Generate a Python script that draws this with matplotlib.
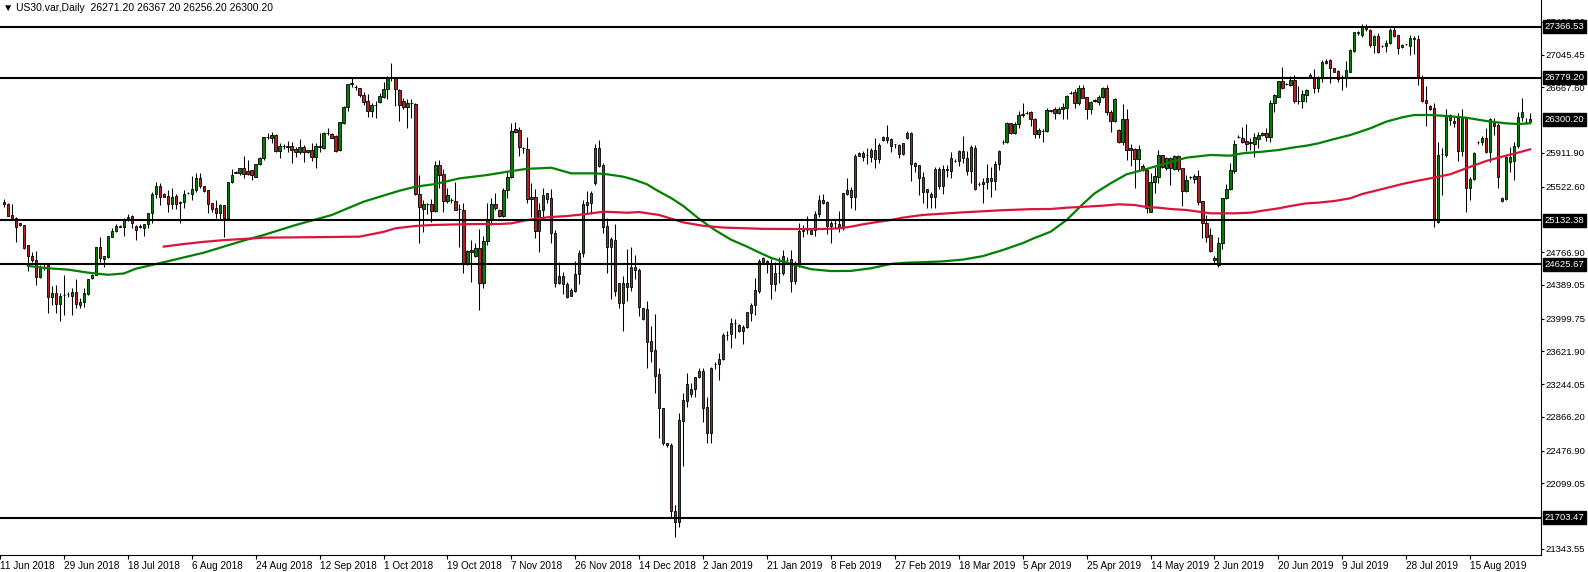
import matplotlib
matplotlib.use('Agg')
import matplotlib.pyplot as plt
import numpy as np

plt.rcParams['font.family'] = ['Liberation Sans', 'DejaVu Sans']

# US30 daily candles (one entry per bar)
opens = [
    25341, 25322, 25195, 25164, 25100, 25080, 24850, 24726, 24672, 24476,
    24580, 24618, 24253, 24295, 24165, 24270, 24280, 24260, 24303, 24157,
    24195, 24280, 24464, 24503, 24822, 24688, 24714, 24945, 25014, 25068,
    25060, 25133, 25185, 25068, 25068, 25048, 25087, 25214, 25433, 25533,
    25440, 25414, 25318, 25414, 25337, 25340, 25445, 25440, 25487, 25621,
    25525, 25479, 25329, 25271, 25221, 25310, 25156, 25571, 25680, 25675,
    25733, 25706, 25710, 25637, 25779, 25848, 26098, 26079, 26117, 25937,
    25990, 25992, 25990, 25952, 25925, 25979, 25917, 25940, 25867, 25990,
    25971, 26140, 26125, 26110, 25944, 26259, 26436, 26718, 26667, 26656,
    26579, 26510, 26398, 26463, 26494, 26560, 26644, 26779, 26771, 26640,
    26510, 26444, 26483, 26475, 25433, 25264, 25325, 25318, 25245, 25771,
    25667, 25360, 25369, 25360, 25260, 25252, 24629, 24791, 24726, 24810,
    24414, 24891, 25145, 25321, 25252, 25183, 25483, 25629, 26187, 26175,
    25964, 25956, 25375, 25398, 25014, 25252, 25444, 25387, 24983, 24406,
    24491, 24399, 24264, 24322, 24514, 24752, 25341, 25337, 25560, 25964,
    25771, 25068, 24822, 24906, 24406, 24176, 24406, 24360, 24599, 24560,
    23991, 24110, 23745, 23637, 23360, 22965, 22560, 22540, 21780, 21650,
    22823, 23053, 23130, 23184, 23326, 23395, 22976, 22676, 23476, 23480,
    23530, 23811, 23818, 23946, 23926, 23861, 23899, 24061, 24157, 24322,
    24699, 24664, 24630, 24395, 24522, 24522, 24676, 24683, 24437, 24630,
    25010, 25018, 24976, 25022, 25202, 25368, 25341, 25072, 25098, 25087,
    25041, 25437, 25483, 25406, 25879, 25910, 25887, 25867, 25948, 25837,
    26060, 26098, 26071, 26010, 26002, 25898, 26079, 26137, 25798, 25771,
    25629, 25464, 25437, 25406, 25721, 25529, 25719, 25706, 25821, 25821,
    25933, 25848, 25706, 25971, 25552, 25548, 25571, 25625, 25587, 25779,
    26037, 26040, 26252, 26136, 26244, 26348, 26373, 26379, 26298, 26125,
    26165, 26167, 26406, 26413, 26367, 26413, 26433, 26600, 26610, 26483,
    26656, 26552, 26413, 26521, 26494, 26552, 26656, 26386, 26279, 26175,
    26040, 26302, 25971, 25956, 25840, 25760, 25714, 25233, 25579, 25637,
    25887, 25733, 25848, 25725, 25879, 25733, 25475, 25628, 25610, 25644,
    25356, 25106, 24964, 24700, 24618, 24868, 25387, 25491, 25706, 26098,
    26079, 26048, 26033, 26014, 26071, 26117, 26144, 26098, 26483, 26560,
    26744, 26705, 26694, 26752, 26513, 26513, 26579, 26809, 26783, 26663,
    26782, 26975, 26982, 26886, 26856, 26771, 26771, 26848, 27090, 27298,
    27271, 27359, 27329, 27155, 27259, 27143, 27143, 27175, 27328, 27271,
    27128, 27162, 27143, 27232, 27225, 26790, 26521, 26452, 26425, 25118,
    25895, 25887, 26348, 26280, 26310, 25933, 26310, 25502, 25610, 26033,
    26033, 26079, 25925, 26252, 26233, 25356, 25379, 25810, 25817, 25990,
    26329, 26271, 26271,
]
highs = [
    25380, 25330, 25318, 25170, 25105, 25085, 24850, 24772, 24784, 24618,
    24625, 24620, 24380, 24387, 24291, 24503, 24311, 24350, 24453, 24234,
    24350, 24460, 24510, 24830, 24937, 24725, 24955, 25041, 25087, 25075,
    25156, 25203, 25195, 25080, 25090, 25090, 25220, 25456, 25579, 25560,
    25450, 25483, 25502, 25440, 25355, 25483, 25460, 25640, 25675, 25675,
    25530, 25485, 25335, 25368, 25318, 25315, 25571, 25725, 25700, 25740,
    25875, 25829, 25712, 25781, 25867, 26098, 26136, 26148, 26125, 26021,
    26010, 26048, 26033, 25983, 26071, 26002, 25950, 26029, 26021, 26136,
    26156, 26202, 26135, 26112, 26267, 26448, 26710, 26771, 26690, 26660,
    26617, 26586, 26490, 26510, 26598, 26725, 26802, 26948, 26775, 26650,
    26540, 26530, 26530, 26490, 25656, 25367, 25330, 25375, 25817, 25829,
    25725, 25510, 25390, 25579, 25321, 25329, 24790, 24906, 24868, 25029,
    24952, 25337, 25387, 25444, 25260, 25502, 25687, 26252, 26263, 26213,
    25975, 26098, 25560, 25490, 25337, 25502, 25450, 25490, 25022, 24656,
    24541, 24422, 24349, 24664, 24791, 25368, 25472, 25472, 26014, 26060,
    25790, 25156, 24945, 25087, 24410, 24491, 24799, 24829, 24733, 24579,
    24125, 24203, 23914, 24053, 23426, 22970, 22570, 22569, 21850, 22907,
    23138, 23376, 23253, 23330, 23430, 23426, 23099, 23438, 23499, 23607,
    23830, 23857, 24003, 23991, 23935, 23926, 24080, 24184, 24472, 24683,
    24710, 24675, 24683, 24656, 24714, 24791, 24710, 24791, 24660, 25098,
    25080, 25183, 25041, 25241, 25425, 25437, 25356, 25125, 25145, 25241,
    25450, 25617, 25521, 25894, 25920, 25933, 25964, 25964, 26087, 26021,
    26110, 26233, 26079, 26015, 26010, 26025, 26167, 26148, 25805, 25775,
    25694, 25500, 25464, 25744, 25752, 25771, 25771, 25917, 25840, 25944,
    26106, 25933, 26002, 26002, 25570, 25625, 25779, 25752, 25821, 25944,
    26060, 26271, 26260, 26271, 26394, 26483, 26390, 26390, 26310, 26194,
    26185, 26425, 26410, 26444, 26444, 26483, 26579, 26620, 26648, 26694,
    26694, 26560, 26510, 26530, 26579, 26675, 26694, 26406, 26540, 26190,
    26475, 26417, 26010, 25964, 26002, 25779, 25733, 25675, 25752, 25940,
    25890, 25867, 25867, 25887, 25890, 25740, 25656, 25640, 25667, 25714,
    25360, 25194, 25041, 24720, 24945, 25387, 25548, 25790, 26060, 26120,
    26213, 26244, 26079, 26136, 26156, 26150, 26194, 26521, 26590, 26744,
    26906, 26720, 26798, 26810, 26682, 26636, 26644, 26830, 26878, 26798,
    26983, 26994, 26994, 26890, 26867, 26809, 26975, 27106, 27309, 27317,
    27398, 27398, 27336, 27271, 27298, 27150, 27213, 27348, 27359, 27275,
    27170, 27167, 27271, 27259, 27271, 26809, 26683, 26460, 26490, 26040,
    25964, 26417, 26360, 26330, 26367, 26417, 26329, 25637, 25925, 26050,
    26110, 26194, 26310, 26310, 26252, 25406, 25870, 25983, 26040, 26386,
    26540, 26317, 26367,
]
lows = [
    25290, 25180, 25150, 24880, 25070, 24800, 24550, 24657, 24387, 24464,
    24560, 24068, 24157, 24068, 23976, 24040, 24245, 24040, 24118, 24118,
    24138, 24272, 24460, 24500, 24649, 24599, 24703, 24937, 25003, 25055,
    24957, 25126, 25041, 24906, 25040, 24956, 25041, 25098, 25387, 25310,
    25400, 25233, 25264, 25264, 25098, 25272, 25440, 25367, 25456, 25502,
    25456, 25214, 25233, 25156, 25148, 24945, 25133, 25560, 25675, 25656,
    25617, 25656, 25598, 25635, 25775, 25829, 26071, 26021, 25925, 25856,
    25956, 25925, 25790, 25867, 25894, 25802, 25910, 25817, 25733, 25917,
    25956, 26117, 26080, 25925, 25933, 26248, 26394, 26675, 26640, 26560,
    26463, 26329, 26329, 26317, 26483, 26548, 26529, 26740, 26456, 26283,
    26413, 26202, 26310, 25420, 24875, 24995, 25202, 25118, 25229, 25502,
    25229, 25337, 25329, 25252, 24829, 24522, 24620, 24425, 24714, 24099,
    24349, 24845, 25079, 25252, 25175, 25175, 25394, 25625, 26144, 25875,
    25906, 25329, 25175, 24926, 24772, 25137, 25337, 24876, 24360, 24399,
    24283, 24241, 24260, 24303, 24399, 24714, 25202, 25202, 25541, 25750,
    24983, 24530, 24226, 24264, 24118, 23857, 24207, 24318, 24456, 24033,
    23985, 23434, 23499, 23145, 22626, 22542, 22520, 21700, 21480, 21600,
    22300, 22976, 23092, 23099, 23318, 22803, 22569, 22569, 23422, 23291,
    23522, 23753, 23657, 23780, 23849, 23707, 23888, 23972, 24041, 24299,
    24645, 24530, 24226, 24322, 24406, 24503, 24660, 24310, 24400, 24600,
    24945, 24972, 24970, 24956, 25175, 25318, 24976, 24868, 25048, 24995,
    25022, 25425, 25279, 25252, 25870, 25821, 25779, 25810, 25741, 25790,
    26050, 26021, 25925, 25971, 25848, 25887, 26075, 25591, 25694, 25425,
    25329, 25271, 25271, 25271, 25494, 25437, 25637, 25625, 25805, 25764,
    25790, 25656, 25560, 25483, 25530, 25329, 25494, 25406, 25483, 25714,
    26010, 26030, 26125, 26125, 26194, 26329, 26355, 26225, 26079, 26079,
    26040, 26156, 26385, 26298, 26360, 26298, 26298, 26590, 26433, 26463,
    26540, 26298, 26356, 26500, 26463, 26545, 26348, 26156, 26271, 26021,
    26002, 25829, 25764, 25502, 25702, 25702, 25214, 25233, 25444, 25560,
    25740, 25714, 25541, 25714, 25702, 25302, 25464, 25610, 25560, 25310,
    24925, 24887, 24772, 24640, 24599, 24799, 25375, 25483, 25683, 26080,
    26021, 25937, 25944, 25867, 25971, 26110, 26052, 26040, 26387, 26552,
    26648, 26690, 26686, 26490, 26475, 26425, 26502, 26780, 26598, 26617,
    26732, 26940, 26713, 26840, 26732, 26636, 26675, 26840, 27079, 27271,
    27252, 27321, 27136, 27059, 27059, 27135, 27071, 27167, 27252, 27048,
    27120, 27155, 27040, 27048, 26694, 26502, 26221, 26405, 25060, 25106,
    25425, 25867, 26230, 26215, 25821, 25870, 25233, 25367, 25598, 26010,
    26000, 25906, 25810, 26117, 25502, 25348, 25370, 25687, 25598, 25964,
    26279, 26240, 26256,
]
closes = [
    25318, 25187, 25157, 25060, 25075, 24810, 24726, 24672, 24476, 24580,
    24595, 24253, 24295, 24165, 24257, 24272, 24282, 24303, 24165, 24195,
    24299, 24453, 24503, 24826, 24695, 24722, 24953, 25010, 25068, 25060,
    25137, 25172, 25100, 25022, 25060, 25087, 25214, 25433, 25529, 25406,
    25406, 25318, 25406, 25321, 25340, 25437, 25450, 25494, 25621, 25525,
    25471, 25325, 25268, 25221, 25306, 25156, 25571, 25652, 25685, 25733,
    25668, 25671, 25656, 25779, 25848, 26090, 26100, 26117, 25937, 25990,
    25992, 25975, 25944, 25925, 25979, 25921, 25944, 25867, 25990, 25975,
    26140, 26142, 26087, 25937, 26267, 26440, 26706, 26702, 26670, 26579,
    26502, 26398, 26463, 26465, 26567, 26648, 26771, 26775, 26644, 26463,
    26444, 26490, 26485, 25433, 25283, 25321, 25327, 25245, 25771, 25660,
    25360, 25421, 25371, 25256, 25262, 24629, 24783, 24764, 24810, 24414,
    24891, 25145, 25321, 25271, 25179, 25483, 25629, 26164, 26156, 25983,
    25966, 25375, 25398, 25014, 25252, 25425, 25375, 24983, 24406, 24491,
    24399, 24253, 24330, 24514, 24752, 25322, 25310, 25452, 25964, 25764,
    25060, 24822, 24914, 24322, 24176, 24406, 24368, 24599, 24560, 24130,
    24118, 23734, 23630, 23341, 22964, 22561, 22540, 21780, 21650, 22830,
    23061, 23245, 23184, 23326, 23395, 22965, 22676, 23426, 23478, 23530,
    23807, 23815, 23953, 23949, 23861, 23899, 24072, 24157, 24330, 24668,
    24653, 24645, 24395, 24522, 24525, 24722, 24678, 24437, 24620, 25010,
    25025, 25022, 25022, 25206, 25368, 25337, 25072, 25098, 25100, 25041,
    25445, 25483, 25406, 25875, 25910, 25864, 25889, 25948, 25837, 26002,
    26098, 26060, 25994, 26008, 25898, 26025, 26137, 25783, 25764, 25625,
    25464, 25490, 25406, 25721, 25529, 25721, 25721, 25848, 25823, 25933,
    25848, 25706, 25983, 25494, 25550, 25579, 25625, 25587, 25783, 25933,
    26040, 26252, 26136, 26244, 26348, 26360, 26375, 26298, 26125, 26175,
    26167, 26406, 26394, 26367, 26413, 26440, 26567, 26602, 26483, 26656,
    26548, 26413, 26494, 26510, 26552, 26656, 26386, 26279, 26533, 26040,
    26302, 25944, 25940, 25840, 25952, 25714, 25271, 25579, 25648, 25887,
    25752, 25848, 25733, 25879, 25721, 25471, 25598, 25630, 25640, 25348,
    25098, 24945, 24783, 24680, 24868, 25387, 25491, 25714, 26014, 26100,
    26037, 26014, 26030, 26090, 26113, 26140, 26098, 26483, 26579, 26744,
    26656, 26707, 26752, 26513, 26515, 26590, 26636, 26790, 26663, 26790,
    26963, 26952, 26886, 26848, 26760, 26773, 26867, 27098, 27302, 27300,
    27367, 27340, 27155, 27259, 27071, 27145, 27182, 27328, 27263, 27125,
    27155, 27164, 27232, 27230, 26783, 26513, 26483, 26413, 25137, 25887,
    25893, 26348, 26290, 26260, 25933, 26310, 25502, 25610, 25906, 26031,
    26079, 25925, 26302, 26225, 25637, 25387, 25867, 25867, 25990, 26329,
    26386, 26273, 26300,
]

# moving averages sampled along the chart (bar index, value)
green_ma_bars = [6, 11, 16, 21, 26, 30, 33, 40, 50, 60,
                 65, 73, 82, 90, 99, 103, 108, 114, 121, 126,
                 131, 134, 137, 139, 142, 148, 151, 155, 158, 161,
                 163, 165, 167, 170, 174, 178, 182, 186, 188, 192,
                 197, 202, 207, 212, 217, 222, 226, 230, 235, 240,
                 245, 250, 255, 258, 262, 266, 270, 273, 277, 281,
                 286, 290, 293, 296, 302, 307, 310, 315, 319, 323,
                 326, 329, 333, 337, 342, 346, 350, 353, 357, 360,
                 366, 371, 376, 379, 382]
green_ma = [24607, 24580, 24565, 24530, 24505, 24520, 24575, 24650, 24760, 24900,
            24964, 25079, 25194, 25348, 25475, 25521, 25552, 25617, 25656, 25694,
            25728, 25733, 25740, 25714, 25675, 25675, 25664, 25637, 25598, 25548,
            25491, 25440, 25390, 25300, 25150, 25020, 24910, 24830, 24785, 24700,
            24630, 24570, 24548, 24550, 24580, 24630, 24645, 24650, 24660, 24680,
            24720, 24790, 24870, 24930, 25002, 25137, 25318, 25444, 25560, 25664,
            25725, 25779, 25817, 25856, 25887, 25879, 25906, 25925, 25944, 25975,
            25994, 26021, 26071, 26117, 26194, 26271, 26321, 26348, 26348, 26340,
            26317, 26279, 26252, 26244, 26252]
red_ma_bars = [40, 45, 50, 55, 60, 65, 80, 89, 95, 98,
               103, 107, 114, 119, 124, 127, 131, 136, 141, 145,
               150, 156, 159, 164, 170, 175, 180, 190, 197, 205,
               209, 212, 215, 218, 222, 225, 228, 230, 240, 250,
               257, 262, 266, 271, 275, 279, 283, 286, 289, 292,
               296, 299, 302, 308, 312, 315, 319, 322, 326, 329,
               333, 337, 340, 345, 350, 354, 357, 362, 366, 371,
               376, 379, 382]
red_ma = [24830, 24860, 24885, 24905, 24918, 24933, 24940, 24945, 25000, 25041,
          25068, 25079, 25087, 25091, 25091, 25098, 25137, 25168, 25183, 25202,
          25233, 25221, 25229, 25195, 25110, 25070, 25050, 25035, 25033, 25033,
          25041, 25060, 25087, 25110, 25137, 25164, 25183, 25195, 25225, 25250,
          25262, 25264, 25279, 25291, 25302, 25318, 25310, 25287, 25279, 25264,
          25252, 25233, 25214, 25214, 25221, 25244, 25271, 25298, 25329, 25337,
          25356, 25387, 25437, 25494, 25552, 25591, 25617, 25664, 25733, 25817,
          25879, 25914, 25952]

# horizontal levels drawn on the chart
levels = [27366.53, 26779.20, 25132.38, 24625.67, 21703.47]
last_price = 26300.20
header = 'US30.var,Daily  26271.20 26367.20 26256.20 26300.20'

price_ticks = [27423.30, 27045.45, 26667.60, 25911.90, 25522.60, 24766.90,
               24389.05, 23999.75, 23621.90, 23244.05, 22866.20, 22476.90,
               22099.05, 21343.55]
date_labels = ['11 Jun 2018', '29 Jun 2018', '18 Jul 2018', '6 Aug 2018',
               '24 Aug 2018', '12 Sep 2018', '1 Oct 2018', '19 Oct 2018',
               '7 Nov 2018', '26 Nov 2018', '14 Dec 2018', '2 Jan 2019',
               '21 Jan 2019', '8 Feb 2019', '27 Feb 2019', '18 Mar 2019',
               '5 Apr 2019', '25 Apr 2019', '14 May 2019', '2 Jun 2019',
               '20 Jun 2019', '9 Jul 2019', '28 Jul 2019', '15 Aug 2019']

o = np.array(opens, dtype=float)
h = np.array(highs, dtype=float)
l = np.array(lows, dtype=float)
c = np.array(closes, dtype=float)
x = np.arange(len(c))

fig = plt.figure(figsize=(15.88, 5.72), dpi=100)
ax = fig.add_axes([0, 17 / 572, 1541 / 1588, 555 / 572])

up = c > o
down = c < o
flat = c == o

ax.vlines(x, l, h, color='black', lw=0.75, zorder=2)
ax.bar(x[up], (c - o)[up], bottom=o[up], width=0.6, color='#008000',
       edgecolor='black', linewidth=0.6, zorder=3)
ax.bar(x[down], (o - c)[down], bottom=c[down], width=0.6, color='#b22222',
       edgecolor='black', linewidth=0.6, zorder=3)
ax.hlines(o[flat], x[flat] - 0.35, x[flat] + 0.35, color='black', lw=0.75, zorder=3)

ax.plot(green_ma_bars, green_ma, color='#008000', lw=1.6, zorder=4)
ax.plot(red_ma_bars, red_ma, color='#dc143c', lw=1.6, zorder=4)

for lv in levels:
    ax.axhline(lv, color='black', lw=1.5, zorder=5)

ax.set_xlim(-0.5, 384.75)
ax.set_ylim(21273, 27674.5)

# right price scale
ax.yaxis.tick_right()
ax.set_yticks(price_ticks)
ax.set_yticklabels(['%.2f' % v for v in price_ticks])
ax.tick_params(axis='y', length=2, width=0.8, pad=1.5, labelsize=6.8)

# date scale, one label every 16 bars
tick_pos = [16 * k - 1 for k in range(len(date_labels))]
ax.set_xticks(tick_pos)
ax.set_xticklabels(date_labels, ha='left')
ax.tick_params(axis='x', length=3, width=0.8, pad=1, labelsize=7.2)

for side in ['left', 'top']:
    ax.spines[side].set_visible(False)
for side in ['right', 'bottom']:
    ax.spines[side].set_linewidth(0.8)

# black price tags on the right scale
tag_tr = ax.get_yaxis_transform()
for v in levels + [last_price]:
    ax.text(1.0022, v, '%.2f' % v, transform=tag_tr, ha='left', va='center',
            fontsize=6.8, color='white', clip_on=False, zorder=10,
            bbox=dict(boxstyle='square,pad=0.2', fc='black', ec='black'))

ax.text(0.002, 0.995, '\u25bc ' + header, transform=ax.transAxes, ha='left',
        va='top', fontsize=7.5, color='black')

fig.savefig('out.png', dpi=100)
